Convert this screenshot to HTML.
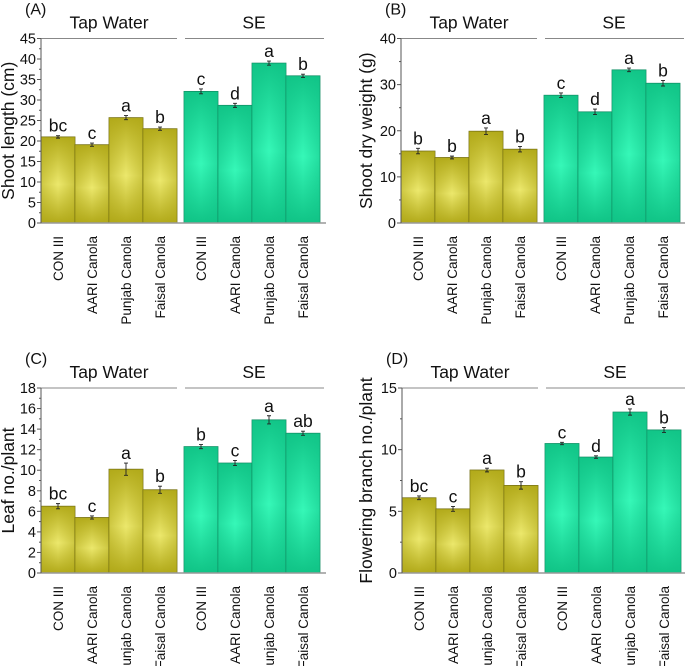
<!DOCTYPE html>
<html><head><meta charset="utf-8"><style>
html,body{margin:0;padding:0;background:#fff;}
svg{display:block;font-family:"Liberation Sans",Arial,sans-serif;}
</style></head><body>
<svg id="fig" width="685" height="666" viewBox="0 0 685 666" xmlns="http://www.w3.org/2000/svg">
<defs>
<linearGradient id="tapV" x1="0" y1="0" x2="0" y2="1"><stop offset="0" stop-color="#b4ac1c"/><stop offset="0.55" stop-color="#ece86c"/><stop offset="1" stop-color="#b2aa1a"/></linearGradient>
<linearGradient id="tapH" x1="0" y1="0" x2="1" y2="0"><stop offset="0" stop-color="#aea616" stop-opacity="0.9"/><stop offset="0.5" stop-color="#aea616" stop-opacity="0"/><stop offset="1" stop-color="#aea616" stop-opacity="0.9"/></linearGradient>
<linearGradient id="seV" x1="0" y1="0" x2="0" y2="1"><stop offset="0" stop-color="#12c688"/><stop offset="0.55" stop-color="#36f8b8"/><stop offset="1" stop-color="#10c486"/></linearGradient>
<linearGradient id="seH" x1="0" y1="0" x2="1" y2="0"><stop offset="0" stop-color="#10c286" stop-opacity="0.9"/><stop offset="0.5" stop-color="#10c286" stop-opacity="0"/><stop offset="1" stop-color="#10c286" stop-opacity="0.9"/></linearGradient>
</defs>
</svg>
<script>
const categories = ["CON III","AARI Canola","Punjab Canola","Faisal Canola"];
const groups = ["Tap Water","SE"];
const tapA = [21.0,19.1,25.7,23.0], seA = [32.1,28.7,39.0,35.9];
const tapAErr = [0.3,0.4,0.5,0.4], seAErr = [0.6,0.5,0.5,0.4];
const lettersA = ["bc","c","a","b","c","d","a","b"];
const ticksA = [0,5,10,15,20,25,30,35,40,45];
const tapB = [15.6,14.2,19.9,16.0], seB = [27.7,24.1,33.2,30.3];
const tapBErr = [0.6,0.3,0.7,0.6], seBErr = [0.5,0.6,0.4,0.6];
const lettersB = ["b","b","a","b","c","d","a","b"];
const ticksB = [0,10,20,30,40];
const tapC = [6.5,5.4,10.1,8.1], seC = [12.3,10.7,14.9,13.6];
const tapCErr = [0.25,0.15,0.6,0.35], seCErr = [0.2,0.25,0.4,0.2];
const lettersC = ["bc","c","a","b","b","c","a","ab"];
const ticksC = [0,2,4,6,8,10,12,14,16,18];
const tapD = [6.1,5.2,8.35,7.1], seD = [10.5,9.4,13.05,11.6];
const tapDErr = [0.15,0.2,0.15,0.3], seDErr = [0.1,0.1,0.25,0.2];
const lettersD = ["bc","c","a","b","c","d","a","b"];
const ticksD = [0,5,10,15];

const NS="http://www.w3.org/2000/svg";
const svg=document.getElementById('fig');
function mk(tag,attrs,parent,text){const e=document.createElementNS(NS,tag);for(const k in attrs)e.setAttribute(k,attrs[k]);if(text!==undefined)e.textContent=text;(parent||svg).appendChild(e);return e;}

function panel(p){
  const g=mk('g',{});
  
  
  const ymax=p.ticks[p.ticks.length-1];
  const y=v=>p.y0-(v/ymax)*(p.y0-p.ytop);
  const bw=34;
  const gx=[p.left, p.left+bw*4+7];
  const pl=mk('text',{x:p.left-16,y:p.ytop-24,'font-size':16,fill:'#111'},g,'('+p.id+')');
  
  
  const yt=mk('text',{x:0,y:0,'font-size':17.5,fill:'#111','text-anchor':'middle',transform:`translate(${p.ytx},${(p.y0+p.ytop)/2}) rotate(-90)`},g,p.ytitle);
  
  
  const series=[[p.tap,p.tapErr,'tap'],[p.se,p.seErr,'se']];
  series.forEach((s,gi)=>{
    const ht=mk('text',{x:gx[gi]+bw*2+(gi?2:0),y:p.ytop-10,'font-size':17.5,fill:'#111','text-anchor':'middle'},g,groups[gi]);
    
    
    const hl=mk('line',{x1:gx[gi]+(gi?1:0),x2:gx[gi]+bw*4+(gi?4:0),y1:p.ytop,y2:p.ytop,stroke:'#888','stroke-width':1},g);
    
    
    s[0].forEach((v,i)=>{
      const x=gx[gi]+i*bw, top=y(v), h=p.y0-top;
      const r=mk('rect',{x:x,y:top,width:bw,height:h,fill:`url(#${s[2]}V)`,stroke:gi?'#0f8a60':'#6f6a10','stroke-width':0.8},g);
      
      
      const r2=mk('rect',{x:x,y:top,width:bw,height:h,fill:`url(#${s[2]}H)`,opacity:0.55},g);
      
      
      const cx=x+bw/2, e=s[1][i];
      const eb=mk('path',{d:`M${cx},${y(v+e)}V${y(v-e)}M${cx-2},${y(v+e)}H${cx+2}M${cx-2},${y(v-e)}H${cx+2}`,stroke:'#222','stroke-width':0.9,fill:'none'},g);
      
      
      const lt=mk('text',{x:cx,y:y(v+e)-4,'font-size':17.5,fill:'#111','text-anchor':'middle'},g,p.letters[gi*4+i]);
      
      
      const cl=mk('text',{x:0,y:0,'font-size':13.5,fill:'#111','text-anchor':'end',transform:`translate(${cx+5},${p.y0+13}) rotate(-90)`},g,categories[i]);
      
      
    });
  });
  const xa=mk('line',{x1:p.left,x2:p.left+285,y1:p.y0,y2:p.y0,stroke:'#999','stroke-width':1.5},g);
  
  
  const ya=mk('line',{x1:p.left,x2:p.left,y1:p.ytop,y2:p.y0,stroke:'#555','stroke-width':1},g);
  
  
  p.ticks.forEach((t,i)=>{
    const ty=y(t);
    const tk=mk('line',{x1:p.left-4,x2:p.left,y1:ty,y2:ty,stroke:'#555','stroke-width':1},g);
    
    
    const tl=mk('text',{x:p.left-5,y:ty+5,'font-size':14.5,fill:'#111','text-anchor':'end'},g,String(t));
    
    
    if(i<p.ticks.length-1){
      const my=y((t+p.ticks[i+1])/2);
      const mt=mk('line',{x1:p.left-2,x2:p.left,y1:my,y2:my,stroke:'#555','stroke-width':1},g);
      
      
    }
  });
}
panel({id:'A',left:41,y0:223,ytop:38.5,ytx:14,ytitle:'Shoot length (cm)',tap:tapA,tapErr:tapAErr,se:seA,seErr:seAErr,letters:lettersA,ticks:ticksA});
panel({id:'B',left:401,y0:223,ytop:38.5,ytx:372,ytitle:'Shoot dry weight (g)',tap:tapB,tapErr:tapBErr,se:seB,seErr:seBErr,letters:lettersB,ticks:ticksB});
panel({id:'C',left:41,y0:573,ytop:388,ytx:14,ytitle:'Leaf no./plant',tap:tapC,tapErr:tapCErr,se:seC,seErr:seCErr,letters:lettersC,ticks:ticksC});
panel({id:'D',left:402,y0:573,ytop:388,ytx:372,ytitle:'Flowering branch no./plant',tap:tapD,tapErr:tapDErr,se:seD,seErr:seDErr,letters:lettersD,ticks:ticksD});
</script>
</body></html>
